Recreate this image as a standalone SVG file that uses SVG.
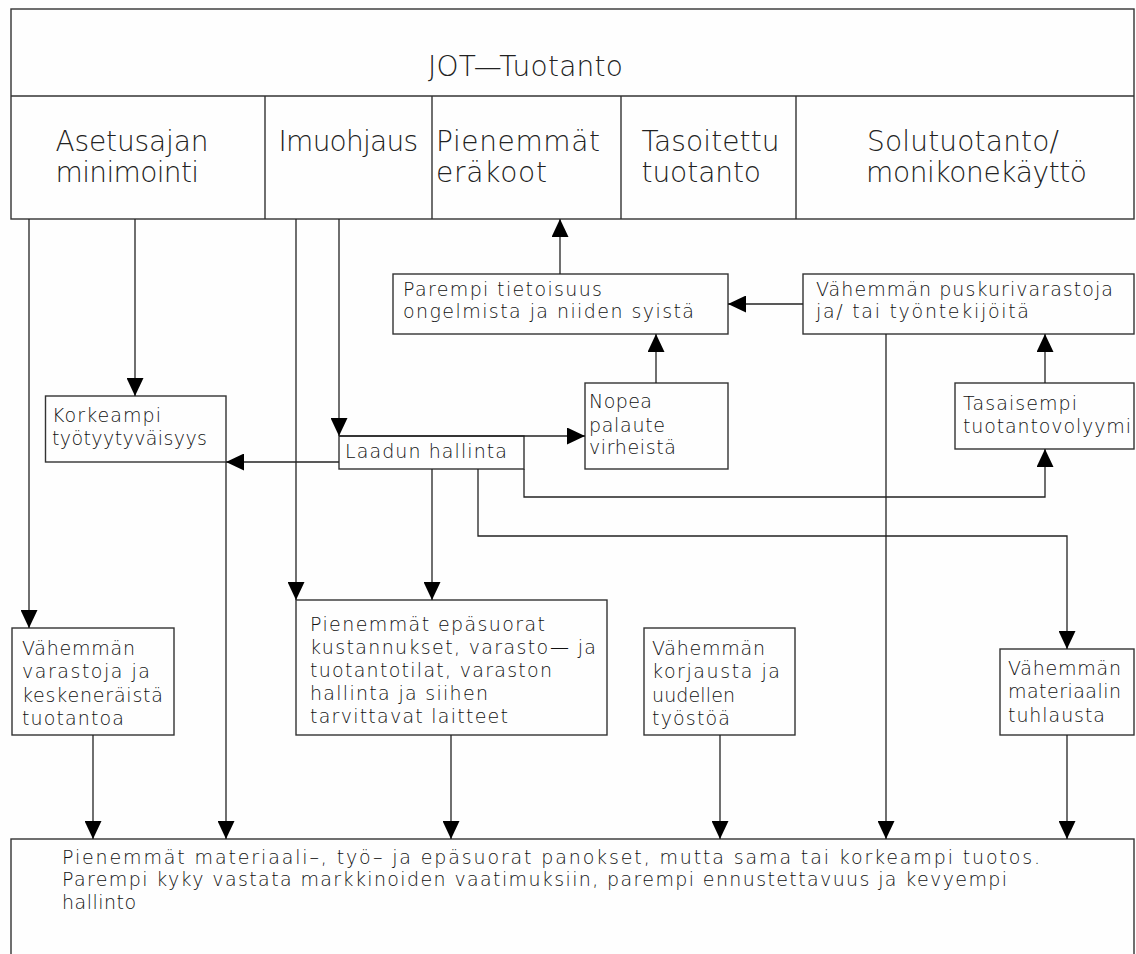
<svg xmlns="http://www.w3.org/2000/svg" width="1136" height="954" viewBox="0 0 1136 954">
<defs>
<style>
.box{fill:none;stroke:#333;stroke-width:1.4}
.ln{fill:none;stroke:#222;stroke-width:1.3}
.big{font-family:"DejaVu Sans","Liberation Sans",sans-serif;font-size:28px;font-weight:200;fill:#222}
.t{font-family:"DejaVu Sans","Liberation Sans",sans-serif;font-size:19px;font-weight:200;fill:#111}
</style>
<marker id="ah" markerUnits="userSpaceOnUse" markerWidth="18" markerHeight="17" refX="18" refY="8.5" orient="auto">
<path d="M0,0 L18,8.5 L0,17 Z" fill="#000"/>
</marker>
</defs>
<rect width="1136" height="954" fill="#fefefe"/>

<g id="top">
<rect class="box" x="11" y="9" width="1123" height="210"/>
<line class="box" x1="11" y1="96" x2="1134" y2="96"/>
<line class="box" x1="265" y1="96" x2="265" y2="219"/>
<line class="box" x1="432" y1="96" x2="432" y2="219"/>
<line class="box" x1="621" y1="96" x2="621" y2="219"/>
<line class="box" x1="796" y1="96" x2="796" y2="219"/>
<text class="big" x="428" y="76" textLength="195">JOT—Tuotanto</text>
<text class="big" x="55.5" y="151" textLength="153">Asetusajan</text>
<text class="big" x="55.5" y="182" textLength="143.5">minimointi</text>
<text class="big" x="278.6" y="151" textLength="139.4">Imuohjaus</text>
<text class="big" x="436" y="151" textLength="164">Pienemmät</text>
<text class="big" x="436" y="182" textLength="111">eräkoot</text>
<text class="big" x="641.5" y="151" textLength="138">Tasoitettu</text>
<text class="big" x="641.5" y="182" textLength="119.5">tuotanto</text>
<text class="big" x="867" y="151" textLength="192">Solutuotanto/</text>
<text class="big" x="866" y="182" textLength="221">monikonekäyttö</text>
</g>

<g id="parempi">
<rect class="box" x="393" y="274" width="335" height="60"/>
<text class="t" x="403" y="296" textLength="199">Parempi tietoisuus</text>
<text class="t" x="403" y="318" textLength="291">ongelmista ja niiden syistä</text>
</g>

<g id="puskuri">
<rect class="box" x="803" y="274" width="331" height="60"/>
<text class="t" x="816" y="296" textLength="297">Vähemmän puskurivarastoja</text>
<text class="t" x="816" y="318" textLength="213">ja/ tai työntekijöitä</text>
</g>

<g id="nopea">
<rect class="box" x="585" y="383" width="143" height="86"/>
<text class="t" x="589" y="408" textLength="63">Nopea</text>
<text class="t" x="589" y="432" textLength="76">palaute</text>
<text class="t" x="589" y="454" textLength="87">virheistä</text>
</g>

<g id="tasaisempi">
<rect class="box" x="955" y="383" width="179" height="66"/>
<text class="t" x="963" y="410" textLength="114">Tasaisempi</text>
<text class="t" x="963" y="433" textLength="168">tuotantovolyymi</text>
</g>

<g id="korkeampi">
<rect class="box" x="45.5" y="396" width="180.5" height="66"/>
<text class="t" x="52" y="422" textLength="109">Korkeampi</text>
<text class="t" x="52" y="445" textLength="155">työtyytyväisyys</text>
</g>

<g id="laadun">
<rect class="box" x="339" y="436" width="185" height="33"/>
<text class="t" x="345" y="458" textLength="162">Laadun hallinta</text>
</g>

<g id="varastoja">
<rect class="box" x="12" y="628" width="162" height="107"/>
<text class="t" x="22" y="655" textLength="113">Vähemmän</text>
<text class="t" x="22" y="678" textLength="128">varastoja ja</text>
<text class="t" x="22" y="702" textLength="141">keskeneräistä</text>
<text class="t" x="22" y="725" textLength="102">tuotantoa</text>
</g>

<g id="epasuorat">
<rect class="box" x="296" y="600" width="311" height="135"/>
<text class="t" x="310" y="631" textLength="235">Pienemmät epäsuorat</text>
<text class="t" x="310" y="654" textLength="286">kustannukset, varasto— ja</text>
<text class="t" x="310" y="677" textLength="242">tuotantotilat, varaston</text>
<text class="t" x="310" y="700" textLength="178">hallinta ja siihen</text>
<text class="t" x="310" y="723" textLength="198">tarvittavat laitteet</text>
</g>

<g id="korjausta">
<rect class="box" x="644" y="628" width="151" height="107"/>
<text class="t" x="652" y="655" textLength="113">Vähemmän</text>
<text class="t" x="652" y="678" textLength="128">korjausta ja</text>
<text class="t" x="652" y="702" textLength="83">uudellen</text>
<text class="t" x="652" y="725" textLength="78">työstöä</text>
</g>

<g id="materiaalin">
<rect class="box" x="1000" y="649" width="134" height="86"/>
<text class="t" x="1008" y="675" textLength="113">Vähemmän</text>
<text class="t" x="1008" y="698" textLength="113">materiaalin</text>
<text class="t" x="1008" y="722" textLength="97">tuhlausta</text>
</g>

<g id="bottom">
<rect class="box" x="11" y="839" width="1123" height="130"/>
<text class="t" x="62" y="864" textLength="978">Pienemmät materiaali–, työ– ja epäsuorat panokset, mutta sama tai korkeampi tuotos.</text>
<text class="t" x="62" y="886" textLength="945">Parempi kyky vastata markkinoiden vaatimuksiin, parempi ennustettavuus ja kevyempi</text>
<text class="t" x="62" y="909" textLength="74">hallinto</text>
</g>

<g id="connectors">
<line class="ln" x1="29" y1="219" x2="29" y2="628" marker-end="url(#ah)"/>
<line class="ln" x1="135" y1="219" x2="135" y2="396" marker-end="url(#ah)"/>
<line class="ln" x1="296" y1="219" x2="296" y2="600" marker-end="url(#ah)"/>
<line class="ln" x1="339" y1="219" x2="339" y2="436" marker-end="url(#ah)"/>
<line class="ln" x1="339" y1="436" x2="585" y2="436" marker-end="url(#ah)"/>
<line class="ln" x1="339" y1="462" x2="226" y2="462" marker-end="url(#ah)"/>
<line class="ln" x1="226" y1="462" x2="226" y2="839" marker-end="url(#ah)"/>
<line class="ln" x1="432" y1="469" x2="432" y2="600" marker-end="url(#ah)"/>
<polyline class="ln" points="478,469 478,536 1067,536 1067,649" marker-end="url(#ah)"/>
<polyline class="ln" points="524,469 524,497 1045,497 1045,449" marker-end="url(#ah)"/>
<line class="ln" x1="560" y1="274" x2="560" y2="219" marker-end="url(#ah)"/>
<line class="ln" x1="803" y1="304" x2="728" y2="304" marker-end="url(#ah)"/>
<line class="ln" x1="656" y1="383" x2="656" y2="334" marker-end="url(#ah)"/>
<line class="ln" x1="1045" y1="383" x2="1045" y2="334" marker-end="url(#ah)"/>
<line class="ln" x1="886" y1="334" x2="886" y2="839" marker-end="url(#ah)"/>
<line class="ln" x1="93" y1="735" x2="93" y2="839" marker-end="url(#ah)"/>
<line class="ln" x1="451" y1="735" x2="451" y2="839" marker-end="url(#ah)"/>
<line class="ln" x1="720" y1="735" x2="720" y2="839" marker-end="url(#ah)"/>
<line class="ln" x1="1067" y1="735" x2="1067" y2="839" marker-end="url(#ah)"/>
</g>
</svg>
